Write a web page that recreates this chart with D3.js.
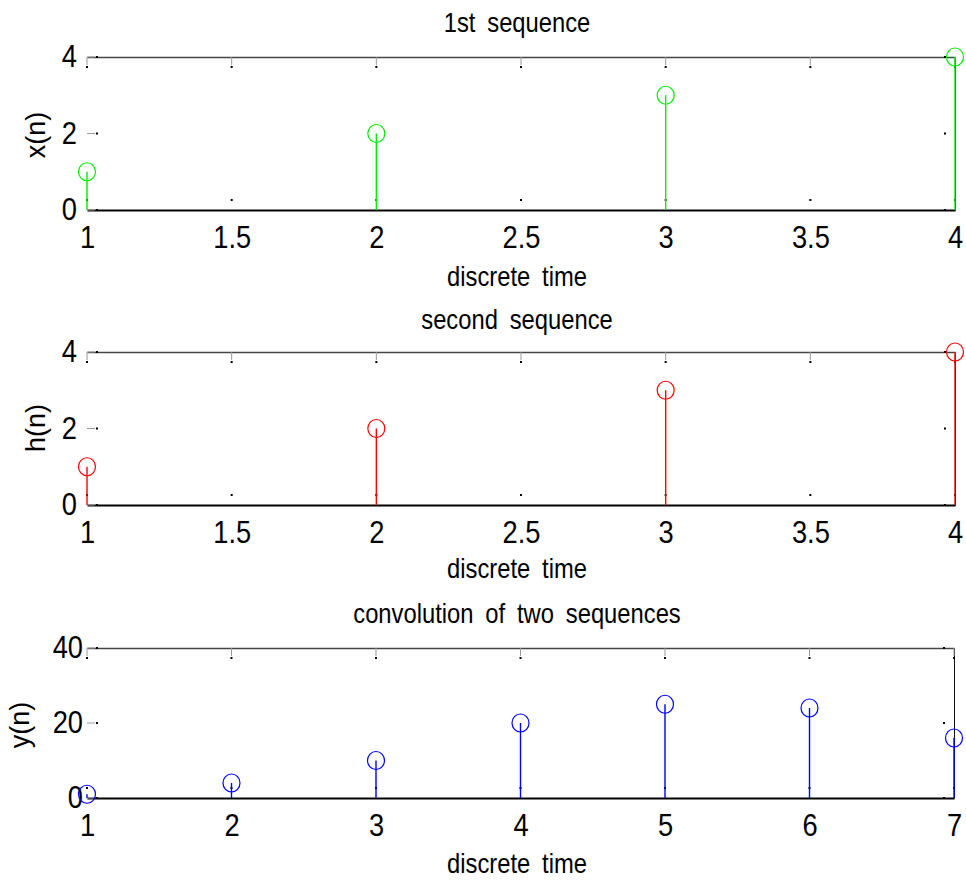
<!DOCTYPE html>
<html><head><meta charset="utf-8">
<script src="https://cdn.jsdelivr.net/npm/d3@7"></script>
<style>
body{margin:0;background:#fff;}
svg{display:block;font-family:"Liberation Sans",Arial,sans-serif;}
text.sq{transform-box:fill-box;transform-origin:50% 50%;transform:scaleX(0.88);}
text.sqe{transform-box:fill-box;transform-origin:100% 50%;transform:scaleX(0.88);}
</style></head><body>
<script>
// ---- data ----
const n1 = [1, 2, 3, 4];
const xn = [1, 2, 3, 4];
const n2 = [1, 2, 3, 4];
const hn = [1, 2, 3, 4];
const n3 = [1, 2, 3, 4, 5, 6, 7];
const yn = [1, 4, 10, 20, 25, 24, 16];
const xTicks12 = [1, 1.5, 2, 2.5, 3, 3.5, 4];
const xTicks3 = [1, 2, 3, 4, 5, 6, 7];
const yTicks12 = [0, 2, 4];
const yTicks3 = [0, 20, 40];
const titles = ["1st sequence", "second sequence", "convolution of two sequences"];
const yLabels = ["x(n)", "h(n)", "y(n)"];
const xLabel = "discrete time";

const W = 966, H = 880;
const svg = d3.select("body").append("svg").attr("width", W).attr("height", H);
const fmt = d => String(d);

const panels = [
  {n:n1, v:xn, xt:xTicks12, yt:yTicks12, xd:[1,4], yd:[0,4], top:57, bottom:210, left:87, right:955,
   color:"#00ee00", title:titles[0], yl:yLabels[0], titleY:32, xlabY:286, ylX:45, ylY:135, ypad:10},
  {n:n2, v:hn, xt:xTicks12, yt:yTicks12, xd:[1,4], yd:[0,4], top:352, bottom:505, left:87, right:955,
   color:"#ff0000", title:titles[1], yl:yLabels[1], titleY:329, xlabY:578, ylX:45, ylY:428, ypad:10},
  {n:n3, v:yn, xt:xTicks3, yt:yTicks3, xd:[1,7], yd:[0,40], top:648, bottom:798, left:87, right:954,
   color:"#0000ff", title:titles[2], yl:yLabels[2], titleY:623, xlabY:873, ylX:29, ylY:725, ypad:4}
];

panels.forEach(p => {
  const x = d3.scaleLinear().domain(p.xd).range([p.left, p.right]);
  const y = d3.scaleLinear().domain(p.yd).range([p.bottom, p.top]);
  const g = svg.append("g");

  // top line
  g.append("g").attr("transform", `translate(0,${p.top})`)
    .call(d3.axisTop(x).tickValues([]).tickSizeOuter(0))
    .call(a => a.select(".domain").attr("stroke", "#444").attr("stroke-width", 1.5));
  // right line
  g.append("g").attr("transform", `translate(${p.right},0)`)
    .call(d3.axisRight(y).tickValues([]).tickSizeOuter(0))
    .call(a => a.select(".domain").attr("stroke", "#111").attr("stroke-width", 1));
  // bottom axis with labels
  g.append("g").attr("transform", `translate(0,${p.bottom})`)
    .call(d3.axisBottom(x).tickValues(p.xt).tickFormat(fmt).tickSize(0).tickPadding(16))
    .call(a => a.select(".domain").attr("stroke", "#000").attr("stroke-width", 2))
    .call(a => a.selectAll("text").attr("class", "sq").attr("font-size", 31).attr("fill", "#000")
      .attr("font-family", "Liberation Sans, Arial, sans-serif"));
  // left axis labels
  g.append("g").attr("transform", `translate(${p.left},0)`)
    .call(d3.axisLeft(y).tickValues(p.yt).tickFormat(fmt).tickSize(0).tickPadding(p.ypad))
    .call(a => a.select(".domain").remove())
    .call(a => a.selectAll("text").attr("class", "sqe").attr("font-size", 31).attr("fill", "#000")
      .attr("font-family", "Liberation Sans, Arial, sans-serif"));

  // faint tick lines (top & left) and tick dots
  g.selectAll(".tt").data(p.xt).join("line")
    .attr("x1", d => x(d)).attr("x2", d => x(d)).attr("y1", p.top).attr("y2", p.top + 8)
    .attr("stroke", "#999").attr("stroke-width", 1);
  g.selectAll(".tl").data(p.yt).join("line")
    .attr("x1", p.left).attr("x2", p.left + 8).attr("y1", d => y(d)).attr("y2", d => y(d))
    .attr("stroke", "#999").attr("stroke-width", 1);
  const dots = [];
  p.xt.forEach(d => { dots.push([x(d), p.top + 10]); dots.push([x(d), p.bottom - 10]); });
  p.yt.forEach(d => { dots.push([p.left + 10, y(d)]); dots.push([p.right - 10, y(d)]); });
  g.selectAll(".dot").data(dots).join("rect")
    .attr("x", d => d[0] - 1).attr("y", d => d[1] - 1).attr("width", 2).attr("height", 2).attr("fill", "#000");

  // stems
  const pts = p.n.map((d, i) => ({n: d, v: p.v[i]}));
  g.selectAll(".stem").data(pts).join("line")
    .attr("x1", d => x(d.n)).attr("x2", d => x(d.n))
    .attr("y1", y(0)).attr("y2", d => y(d.v))
    .attr("stroke", p.color).attr("stroke-width", 1.4);
  g.selectAll(".mk").data(pts).join("ellipse")
    .attr("cx", d => x(d.n)).attr("cy", d => y(d.v)).attr("rx", 8.5).attr("ry", 9)
    .attr("fill", "none").attr("stroke", p.color).attr("stroke-width", 1.2);

  // texts
  svg.append("text").attr("class", "sq").attr("x", 517).attr("y", p.titleY)
    .attr("text-anchor", "middle").attr("font-size", 27).attr("word-spacing", 6).text(p.title);
  svg.append("text").attr("class", "sq").attr("x", 517).attr("y", p.xlabY)
    .attr("text-anchor", "middle").attr("font-size", 27).attr("word-spacing", 6).text(xLabel);
  svg.append("text").attr("transform", `translate(${p.ylX},${p.ylY}) rotate(-90)`)
    .attr("text-anchor", "middle").attr("font-size", 27).text(p.yl);
});
</script>
</body></html>
